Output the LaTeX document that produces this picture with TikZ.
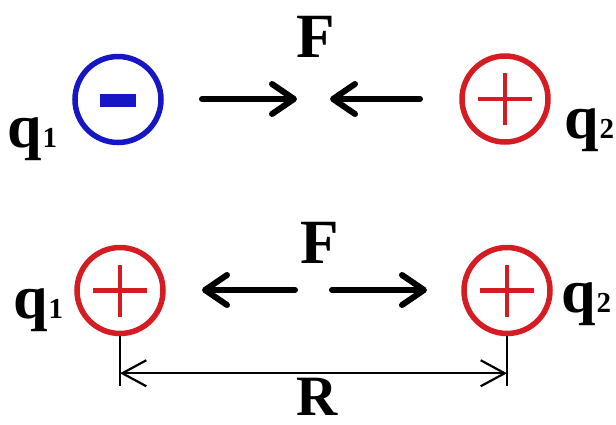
\documentclass[tikz,border=0pt]{standalone}
\usepackage{fontspec}
\setmainfont{Liberation Serif}
\usetikzlibrary{arrows.meta}

\definecolor{chargeblue}{RGB}{22,22,196}
\definecolor{chargered}{RGB}{212,28,34}
\newcommand{\chargename}[2]{#1\kern1pt{\fontsize{29}{29}\selectfont #2}}

\begin{document}
\begin{tikzpicture}[x=1pt,y=-1pt,
  charge/.style={circle,draw=#1,line width=5.5pt,minimum size=86pt,inner sep=0pt},
  force/.style={line width=6pt,line cap=round,
    -{Straight Barb[length=22pt,width=30pt,line cap=round,line join=round]}},
  gauge/.style={line width=2.2pt},
  qtext/.style={font=\bfseries\fontsize{62}{62}\selectfont,inner sep=0pt,anchor=base west},
  ftext/.style={font=\bfseries\fontsize{63}{63}\selectfont,inner sep=0pt,anchor=base}]
\useasboundingbox (0,0) rectangle (616,424);

% attraction
\node[charge=chargeblue] (qa) at (118,99.5) {};
\node[charge=chargered] (qb) at (505,99) {};
\fill[chargeblue] ([xshift=-18pt,yshift=-7pt]qa.center) rectangle ([xshift=18pt,yshift=6pt]qa.center);
\node[qtext] (qalab) at (7,147) {\chargename{q}{1}};
\node[qtext] (qblab) at (564,138) {\chargename{q}{2}};
\node[ftext] (fa) at (316,57) {F};
\coordinate (fa1) at (202,99);  \coordinate (fa2) at (297,99);
\coordinate (fb1) at (420,99);  \coordinate (fb2) at (330,99);
\draw[force] (fa1) -- (fa2);
\draw[force] (fb1) -- (fb2);

% repulsion
\node[charge=chargered] (qc) at (120,290.5) {};
\node[charge=chargered] (qd) at (507,290.5) {};
\node[qtext] (qclab) at (13,318) {\chargename{q}{1}};
\node[qtext] (qdlab) at (561,312) {\chargename{q}{2}};
\node[ftext] (fc) at (320,263) {F};
\coordinate (fc1) at (295,290);  \coordinate (fc2) at (202,290);
\coordinate (fd1) at (332,290);  \coordinate (fd2) at (427,290);
\draw[force] (fc1) -- (fc2);
\draw[force] (fd1) -- (fd2);

\foreach \q in {qb,qc,qd}
  \draw[chargered,line width=4.5pt] ([xshift=-27pt]\q.center) -- ([xshift=27pt]\q.center)
    ([yshift=-26pt]\q.center) -- ([yshift=26pt]\q.center);

% distance
\draw[gauge] (qc.south) -- ++(0,50);
\draw[gauge] (qd.south) -- ++(0,50);
\coordinate (ra) at ([yshift=-37pt]qc.south);
\coordinate (rb) at ([yshift=-37pt]qd.south);
\draw[gauge,{Straight Barb[length=24pt,width=26pt]}-{Straight Barb[length=24pt,width=26pt]}] (ra) -- (rb);
\node[ftext,font=\bfseries\fontsize{57}{57}\selectfont] (rlab) at (317,415) {R};
\end{tikzpicture}
\end{document}
